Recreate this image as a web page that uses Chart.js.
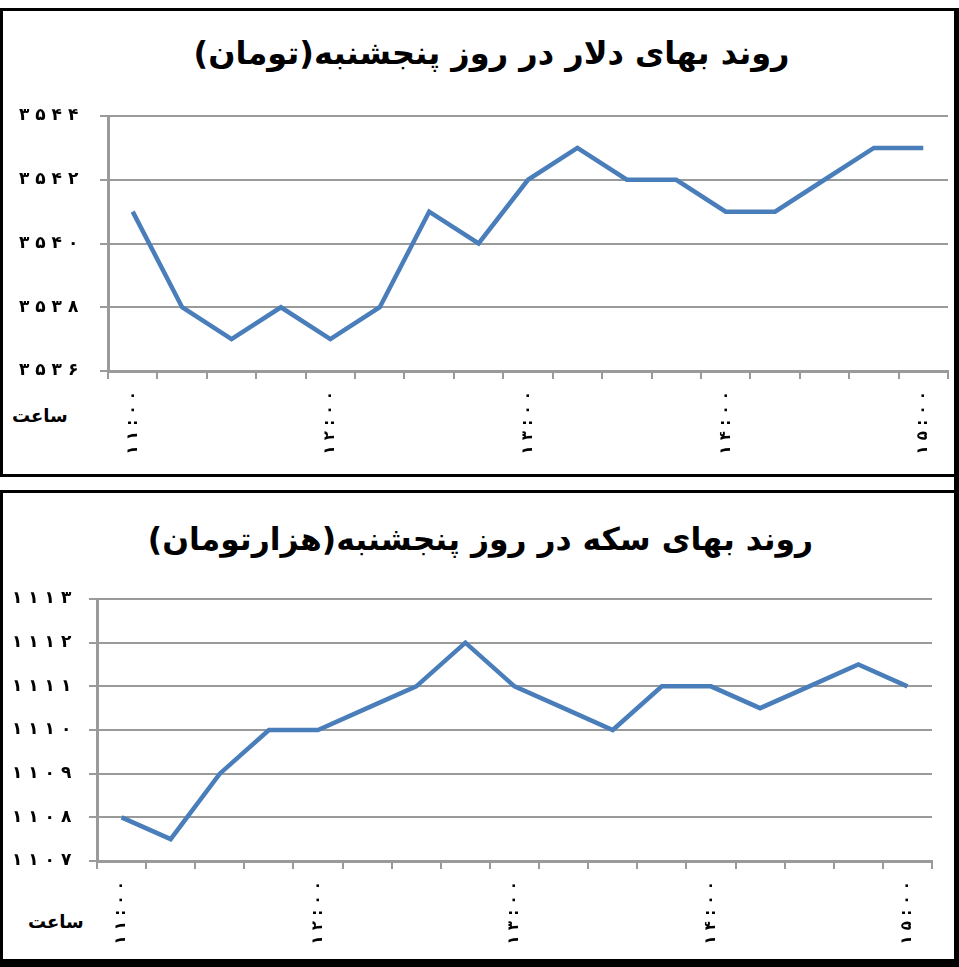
<!DOCTYPE html>
<html>
<head>
<meta charset="utf-8">
<script src="https://cdn.jsdelivr.net/npm/chart.js@4/dist/chart.umd.min.js"></script>
<style>
  html, body { margin: 0; padding: 0; background: #fff; }
  body { width: 959px; height: 967px; position: relative; overflow: hidden; font-family: "DejaVu Sans", sans-serif; }
  .box { position: absolute; border: 3px solid #000; border-right: none; box-sizing: border-box; }
  .title { position: absolute; width: 955px; text-align: center; font-weight: bold; font-size: 32px; direction: rtl; color: #000; }
  .unit { position: absolute; font-weight: bold; font-size: 18px; direction: rtl; color: #000; }
  canvas { position: absolute; }
</style>
</head>
<body>
<div class="box" style="left:0;top:8px;width:955px;height:469px;"></div>
<div class="box" style="left:0;top:490px;width:955px;height:472px;"></div>
<div style="position:absolute;left:954px;top:8px;width:5px;height:959px;background:#000;"></div>
<div style="position:absolute;left:0;top:962px;width:959px;height:5px;background:#000;"></div>

<div class="title" id="t1" style="left:14px;top:34px;">روند بهای دلار در روز پنجشنبه(تومان)</div>
<div class="title" id="t2" style="left:3px;top:521px;font-size:31.4px;">روند بهای سکه در روز پنجشنبه(هزارتومان)</div>
<div class="unit" style="left:12px;top:405px;">ساعت</div>
<div class="unit" style="left:28px;top:911px;">ساعت</div>

<div style="position:absolute;left:0;top:100px;width:955px;height:370px;"><canvas id="c1" width="955" height="370"></canvas></div>
<div style="position:absolute;left:0;top:585px;width:955px;height:375px;"><canvas id="c2" width="955" height="375"></canvas></div>

<script>
// Categories: quarter-hour times (only full hours are labelled)
const times = ['۱۱:۰۰','۱۱:۱۵','۱۱:۳۰','۱۱:۴۵','۱۲:۰۰','۱۲:۱۵','۱۲:۳۰','۱۲:۴۵','۱۳:۰۰','۱۳:۱۵','۱۳:۳۰','۱۳:۴۵','۱۴:۰۰','۱۴:۱۵','۱۴:۳۰','۱۴:۴۵','۱۵:۰۰'];
// Dollar price (toman)
const dollar = [3541, 3538, 3537, 3538, 3537, 3538, 3541, 3540, 3542, 3543, 3542, 3542, 3541, 3541, 3542, 3543, 3543];
// Coin price (thousand toman)
const coin = [1108, 1107.5, 1109, 1110, 1110, 1110.5, 1111, 1112, 1111, 1110.5, 1110, 1111, 1111, 1110.5, 1111, 1111.5, 1111];
// Y axis ranges
const dollarTicks = { min: 3536, max: 3544, step: 2 };
const coinTicks = { min: 1107, max: 1113, step: 1 };

const faDigits = '۰۱۲۳۴۵۶۷۸۹';
const toFa = v => String(v).replace(/\d/g, d => faDigits[d]);
const spaced = s => s.split('').join(' ');

const gridColor = '#9a9a9a';
const lineColor = '#4a7ebb';

function makeChart(id, data, range, axisX, labelLeft, xHeight, pad) {
  return new Chart(document.getElementById(id), {
    type: 'line',
    data: {
      labels: times,
      datasets: [{
        data: data,
        borderColor: lineColor,
        borderWidth: 4.5,
        pointRadius: 0,
        tension: 0,
        fill: false
      }]
    },
    options: {
      responsive: false,
      animation: false,
      events: [],
      layout: { padding: Object.assign({ left: labelLeft }, pad) },
      plugins: { legend: { display: false }, title: { display: false }, tooltip: { enabled: false } },
      scales: {
        x: {
          type: 'category',
          offset: true,
          grid: { offset: true, drawOnChartArea: false, drawTicks: true, tickLength: 8, color: gridColor, lineWidth: 2 },
          border: { display: true, color: gridColor, width: 3 },
          ticks: {
            autoSkip: false, maxRotation: 90, minRotation: 90, padding: 12,
            color: '#000', font: { family: 'DejaVu Sans', weight: 'bold', size: 15 },
            callback: function (val, idx) { return idx % 4 === 0 ? spaced(this.getLabelForValue(val)) : ''; }
          },
          afterFit: s => { s.height = xHeight; }
        },
        y: {
          min: range.min, max: range.max,
          grid: { color: gridColor, lineWidth: 2, tickLength: 8 },
          border: { display: true, color: gridColor, width: 3 },
          ticks: {
            stepSize: range.step, padding: 0, crossAlign: 'far', color: '#000',
            font: { family: 'DejaVu Sans', weight: 'bold', size: 17 },
            callback: v => spaced(toFa(v))
          },
          afterFit: s => { s.width = axisX - labelLeft; }
        }
      }
    }
  });
}

makeChart('c1', dollar, dollarTicks, 108, 19, 99, { top: 16, right: 7, bottom: 0 });
makeChart('c2', coin, coinTicks, 97, 12, 99, { top: 14, right: 23, bottom: 0 });
</script>
</body>
</html>
